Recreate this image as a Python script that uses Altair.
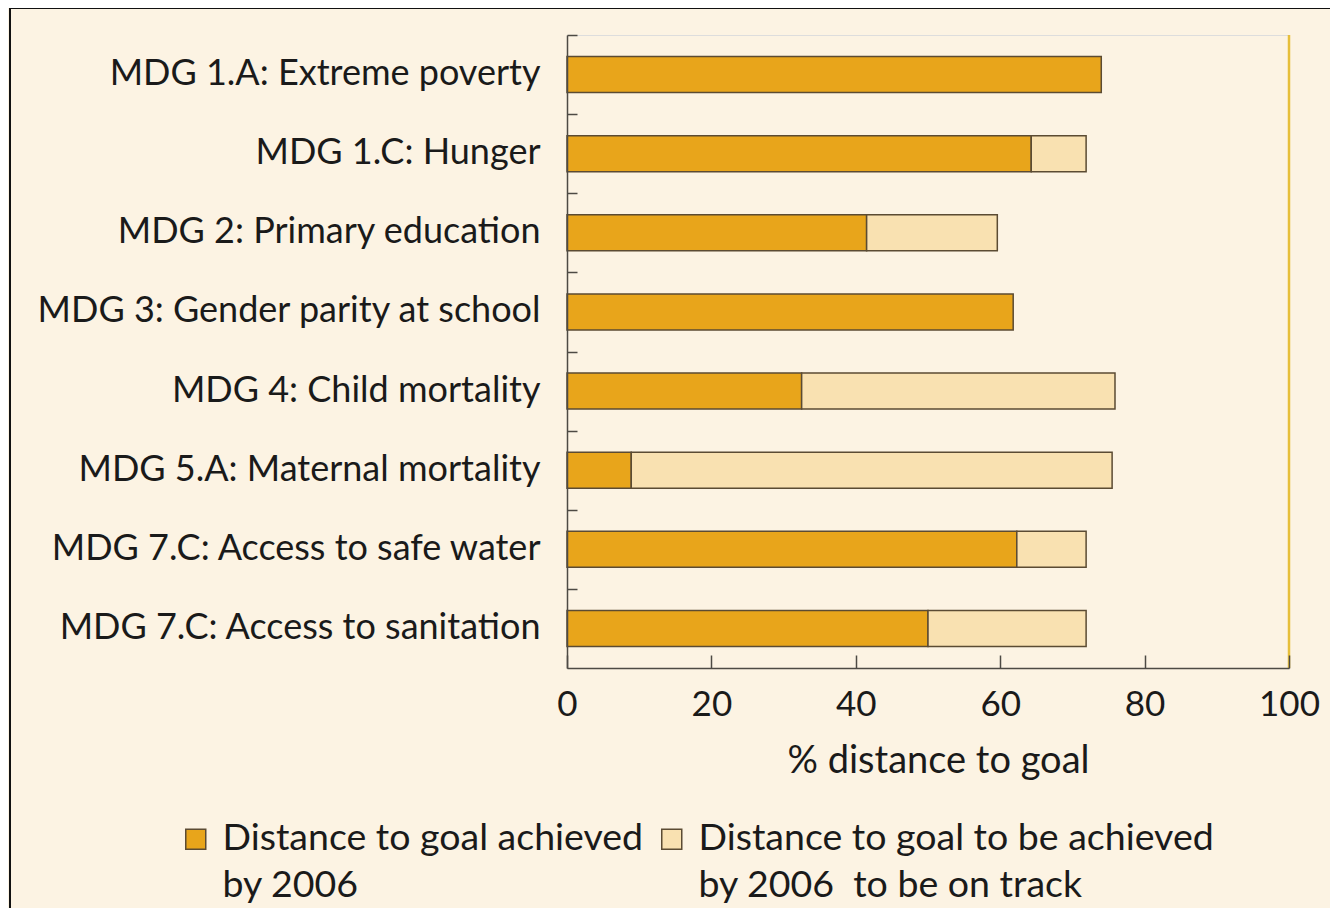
import altair as alt
import pandas as pd

goals = [
    "MDG 1.A: Extreme poverty",
    "MDG 1.C: Hunger",
    "MDG 2: Primary education",
    "MDG 3: Gender parity at school",
    "MDG 4: Child mortality",
    "MDG 5.A: Maternal mortality",
    "MDG 7.C: Access to safe water",
    "MDG 7.C: Access to sanitation",
]
achieved = [74.0, 64.3, 41.5, 61.8, 32.5, 8.9, 62.3, 50.0]
on_track = [74.0, 71.9, 59.6, 61.8, 75.9, 75.5, 71.9, 71.9]
series = [
    "Distance to goal achieved\nby 2006",
    "Distance to goal to be achieved\nby 2006\u00a0 to be on track",
]
colors = ["#E8A51B", "#F9E1B1"]
x_ticks = [0, 20, 40, 60, 80, 100]
goal_line = [100]

rows = []
for i, g in enumerate(goals):
    rows.append({"goal": g, "start": 0.0, "end": achieved[i], "series": series[0]})
    if on_track[i] > achieved[i]:
        rows.append({"goal": g, "start": achieved[i], "end": on_track[i], "series": series[1]})
df = pd.DataFrame(rows)

FONT = "Lato"
TXT = "#1a1a1a"
AXC = "#4d4a44"

frame = alt.Chart(pd.DataFrame({"k": [0]})).mark_rect(
    fill="transparent", stroke="#111111", strokeWidth=2
).encode(
    x=alt.value(-557), x2=alt.value(1500), y=alt.value(-27), y2=alt.value(1200)
)

bars = alt.Chart(df).mark_bar(stroke="#5B4B33", strokeWidth=1.5).encode(
    y=alt.Y(
        "goal:N",
        sort=goals,
        scale=alt.Scale(paddingInner=0.545, paddingOuter=0.2725),
        axis=alt.Axis(
            title=None,
            domainColor=AXC,
            domainWidth=1.5,
            tickColor=AXC,
            tickWidth=1.5,
            tickSize=alt.ExprRef("-10"),
            bandPosition=0.5,
            tickOffset=-39.56,
            labelOffset=38.5,
            labelPadding=37,
            labelFont=FONT,
            labelFontSize=36,
            labelColor=TXT,
            labelLimit=700,
            zindex=1,
        ),
    ),
    x=alt.X(
        "start:Q",
        scale=alt.Scale(domain=[0, 100], nice=False),
        axis=alt.Axis(
            values=x_ticks,
            title="% distance to goal",
            titleFont=FONT,
            titleFontSize=38,
            titleFontWeight="normal",
            titleColor=TXT,
            titleBaseline="alphabetic",
            titleY=104,
            titleX=371,
            domainColor=AXC,
            domainWidth=1.5,
            tickColor=AXC,
            tickWidth=1.5,
            tickSize=alt.ExprRef("-13"),
            labelPadding=32,
            labelFont=FONT,
            labelFontSize=35,
            labelColor=TXT,
            labelFlush=False,
            grid=False,
            zindex=1,
        ),
    ),
    x2="end:Q",
    color=alt.Color(
        "series:N",
        scale=alt.Scale(domain=series, range=colors),
        legend=alt.Legend(
            title=None,
            orient="none",
            legendX=-390,
            legendY=785,
            direction="horizontal",
            columns=2,
            columnPadding=9,
            symbolType="square",
            symbolSize=400,
            symbolStrokeColor="#5B4B33",
            symbolStrokeWidth=1.5,
            labelFont=FONT,
            labelFontSize=37.5,
            labelColor=TXT,
            labelOffset=8,
            labelLimit=800,
            labelExpr="split(datum.label, '\\n')",
            zindex=1,
        ),
    ),
)

rule = alt.Chart(pd.DataFrame({"goal": goal_line})).mark_rule(
    color="#E6BE3A", strokeWidth=2.5
).encode(x=alt.X("goal:Q"))

chart = alt.layer(frame, bars, rule).properties(
    width=722,
    height=633,
    autosize=alt.AutoSizeParams(type="none"),
    padding={"left": 559, "top": 27, "right": 41, "bottom": 240},
    background="#FCF3E3",
).configure_view(stroke=None).configure(
    font=FONT, style={"guide-label": {"lineHeight": 47}}
)

chart.save("out.html", embed_options={"renderer": "svg", "actions": False})
